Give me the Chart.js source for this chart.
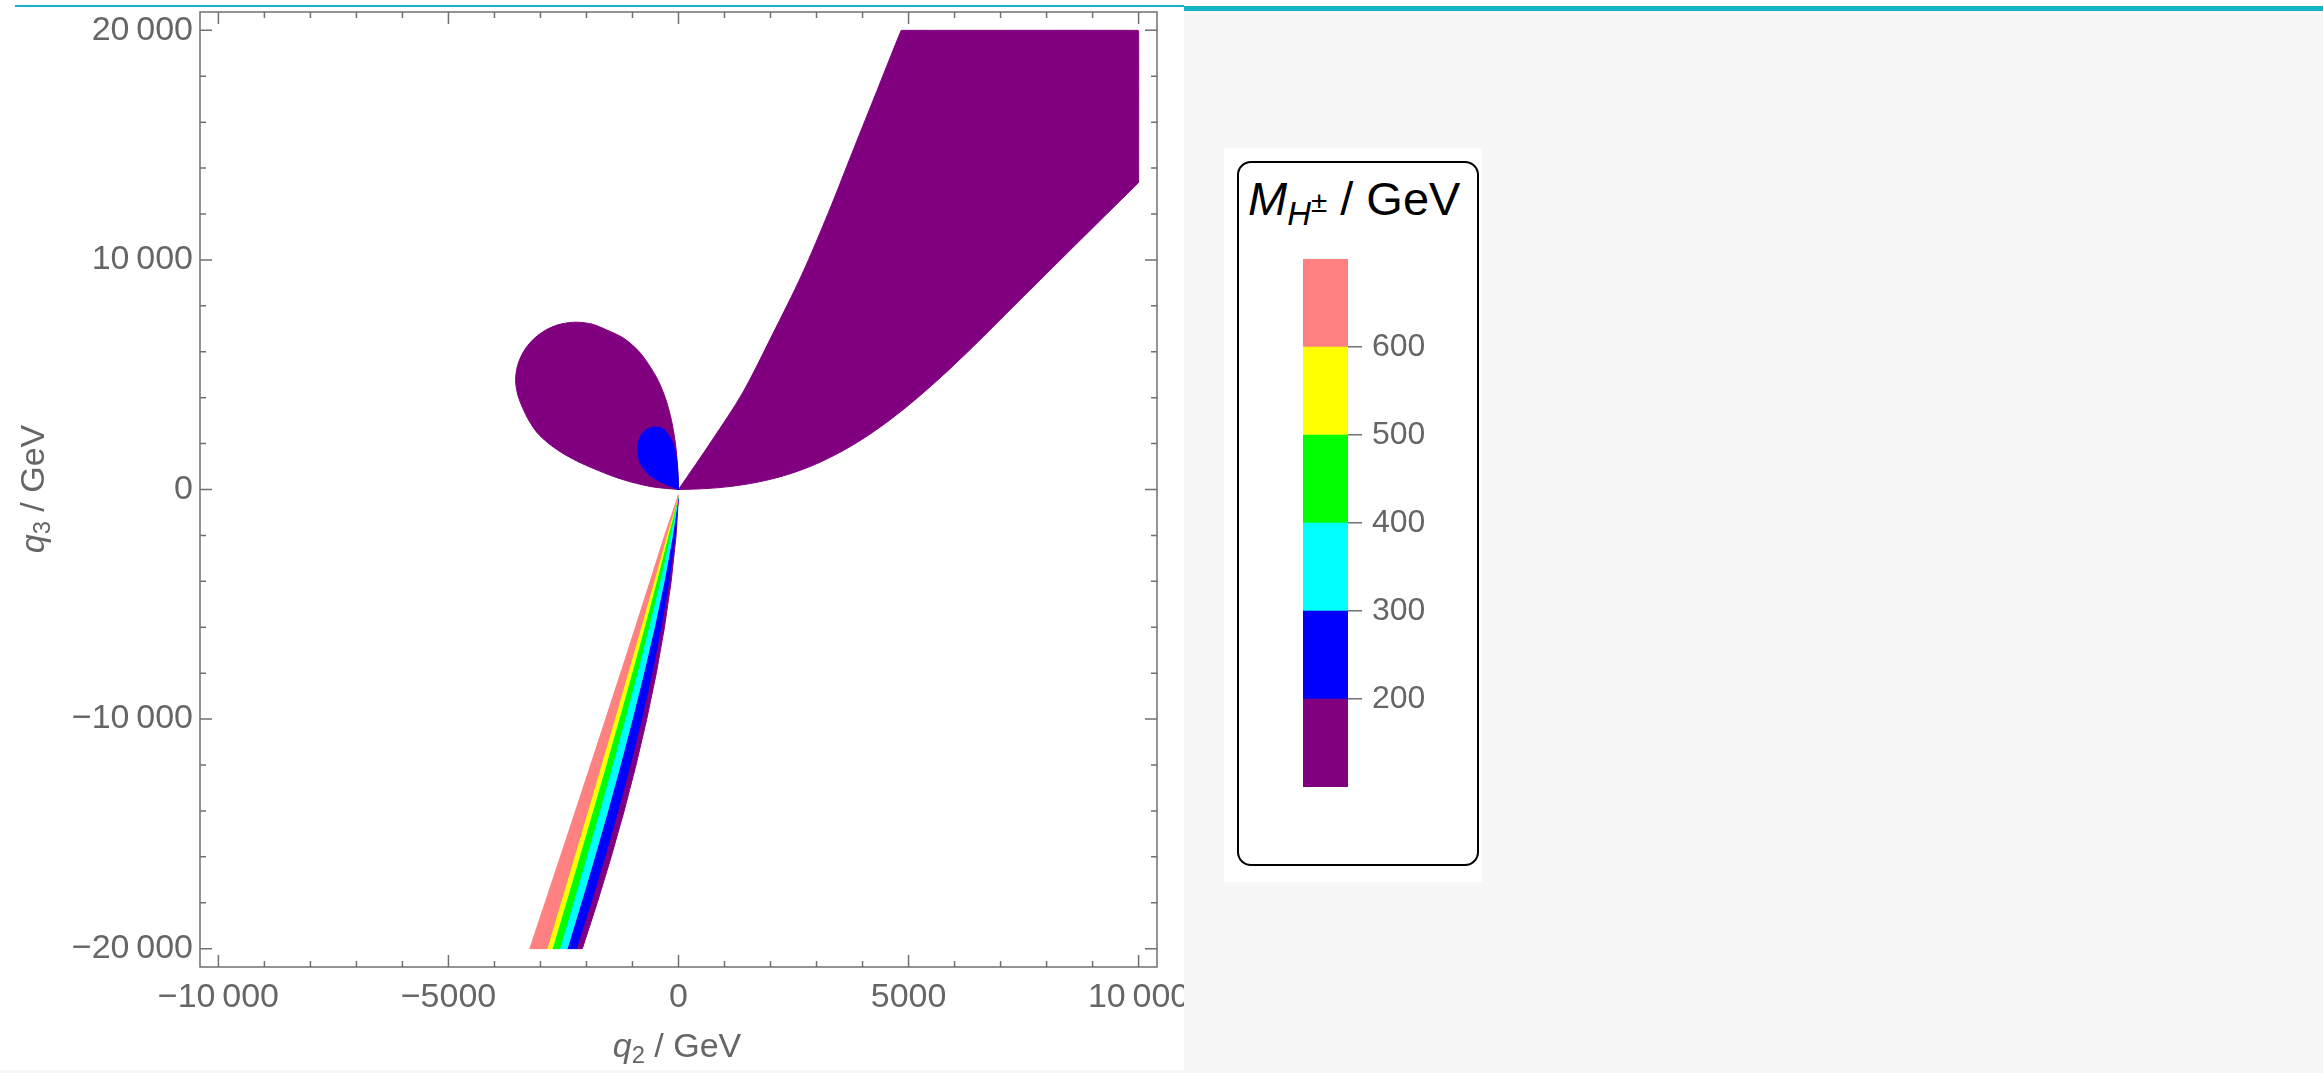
<!DOCTYPE html>
<html>
<head>
<meta charset="utf-8">
<script src="https://cdn.jsdelivr.net/npm/chart.js@4.4.1/dist/chart.umd.min.js"></script>
<style>
    html, body { margin: 0; padding: 0; }
    body { width: 2323px; height: 1073px; background: #f7f7f7; position: relative; overflow: hidden; font-family: "Liberation Sans", Arial, sans-serif; }
    #topStrip { position: absolute; left: 0; top: 0; width: 2323px; height: 6px; background: #fff; }
    #plotPanel { position: absolute; left: 0; top: 0; width: 1184px; height: 1070px; background: #fff; }
    #cyanThin { position: absolute; left: 15px; top: 5px; width: 1169px; height: 2px; background: #14b4c4; }
    #cyanThick { position: absolute; left: 1184px; top: 6px; width: 1139px; height: 5px; background: #14b4c4; }
    #mainChart { position: absolute; left: 0; top: 0; }
    .axisTitle { position: absolute; font-size: 34px; color: #666; line-height: 1; white-space: nowrap; text-align: center; }
    .axisTitle sub { font-size: 0.7em; vertical-align: -0.25em; line-height: 0; }
    #xTitle { left: 577px; top: 1028px; width: 200px; }
    #yTitle { left: -68px; top: 472px; width: 200px; height: 34px; transform: rotate(-90deg); }
    #legendPanel { position: absolute; left: 1224px; top: 148px; width: 258px; height: 734px; background: #fff; }
    #legendBox { position: absolute; left: 1237px; top: 161px; width: 242px; height: 705px; border: 2px solid #000; border-radius: 14px; box-sizing: border-box; }
    #legendTitle { position: absolute; left: 1248px; top: 175px; font-size: 47px; line-height: 1; color: #000; white-space: nowrap; }
    #legendTitle sub { font-size: 0.7em; vertical-align: -0.3em; line-height: 0; }
    #legendTitle sup { font-size: 0.9em; vertical-align: 0.45em; line-height: 0; }
    #barChart { position: absolute; left: 1303px; top: 219px; }
</style>
</head>
<body>
<div id="topStrip"></div>
<div id="plotPanel"></div>
<div id="cyanThin"></div>
<div id="cyanThick"></div>
<canvas id="mainChart" width="1184" height="1070"></canvas>
<div class="axisTitle" id="xTitle"><i>q</i><sub>2</sub> / GeV</div>
<div class="axisTitle" id="yTitle"><i>q</i><sub>3</sub> / GeV</div>
<div id="legendPanel"></div>
<div id="legendBox"></div>
<div id="legendTitle"><i>M</i><sub><i>H</i><sup>±</sup></sub> / GeV</div>
<canvas id="barChart" width="170" height="608"></canvas>
<script>
/* Axis ticks */
const xTicks = [-10000, -9000, -8000, -7000, -6000, -5000, -4000, -3000, -2000, -1000, 0,
    1000, 2000, 3000, 4000, 5000, 6000, 7000, 8000, 9000, 10000];
const yTicks = [-20000, -18000, -16000, -14000, -12000, -10000, -8000, -6000, -4000, -2000, 0,
    2000, 4000, 6000, 8000, 10000, 12000, 14000, 16000, 18000, 20000];
const xLabelTicks = [-10000, -5000, 0, 5000, 10000];
const xTickLabels = ['\u221210\u2009000', '\u22125000', '0', '5000', '10\u2009000'];
const yLabelTicks = [-20000, -10000, 0, 10000, 20000];
const yTickLabels = ['\u221220\u2009000', '\u221210\u2009000', '0', '10\u2009000', '20\u2009000'];

/* Colour bar */
const massLevels = [100, 200, 300, 400, 500, 600, 700];
const massColors = ['#800080', '#0000ff', '#00ffff', '#00ff00', '#ffff00', '#ff8080'];
const massTicks = [200, 300, 400, 500, 600];

/* Left loop (purple), traced from the origin up its right side */
const loopX = [0, -15, -60, -152, -280, -442, -650, -878, -1200, -1561, -1879, -2221, -2563, -2881, -3154,
    -3364, -3496, -3541, -3490, -3386, -3250, -3064, -2820, -2548, -2200, -1838, -1430, -1030, -550, 0];
const loopY = [0, 800, 1900, 3005, 3950, 4747, 5450, 6054, 6600, 6950, 7204, 7290, 7204, 6950, 6546,
    6020, 5407, 4750, 4100, 3553, 3000, 2456, 2000, 1616, 1230, 906, 580, 327, 110, 0];
/* Inner blue loop */
const innerX = [0, -290, -500, -660, -842, -893, -860, -806, -700, -551, -420, -290, -116, -50, -22, -5, 0];
const innerY = [0, 247, 450, 684, 1190, 1844, 2150, 2395, 2600, 2715, 2700, 2570, 1990, 1400, 971, 400, 0];

/* Right lobe (purple): upper edge, clipped corners, lower edge back to the origin */
const lobeUpperX = [0, 745, 1390, 2034, 2681, 3260, 3809, 4325, 4840];
const lobeUpperY = [0, 2190, 4198, 6715, 9358, 12070, 14843, 17426, 20000];
const lobeCornerX = [4860, 9980, 10000, 10000, 10000];
const lobeCornerY = [20000, 20000, 19980, 13390, 13370];
const lobeLowerX = [9500, 9000, 8500, 8000, 7500, 7000, 6500, 6000, 5500, 5000, 4500, 4000,
    3500, 3000, 2500, 2000, 1500, 1000, 500, 0];
const lobeLowerY = [12385, 11395, 10405, 9410, 8415, 7415, 6415, 5450, 4530, 3670, 2890, 2200,
    1610, 1120, 735, 445, 240, 105, 30, 0];

/* Lower wedge: band edges, left to right, at each wedgeY */
const wedgeY = [-250, -2000, -4000, -6000, -8000, -10000, -12000, -14000, -16000, -18000, -20000];
const edgePinkLeft = [0, -301, -616, -935, -1257, -1582, -1909, -2237, -2567, -2898, -3230];
const edgePinkYellow = [0, -261, -536, -818, -1103, -1391, -1681, -1973, -2268, -2563, -2860];
const edgeYellowGreen = [0, -226, -479, -743, -1016, -1294, -1577, -1864, -2155, -2448, -2745];
const edgeGreenCyan = [0, -183, -406, -647, -901, -1165, -1437, -1715, -2000, -2290, -2585];
const edgeCyanBlue = [0, -130, -313, -524, -756, -1004, -1265, -1538, -1823, -2117, -2420];
const edgeBluePurple = [0, -75, -208, -378, -577, -801, -1048, -1314, -1599, -1901, -2220];
const edgePurpleRight = [0, -52, -159, -305, -482, -690, -923, -1181, -1463, -1766, -2090];

const tickColor = '#707070';
const labelColor = '#666';

function toPoints(xs, ys) {
    return xs.map((x, i) => ({ x: x, y: ys[i] }));
}

function band(leftEdge, rightEdge) {
    return toPoints(leftEdge, wedgeY).concat(toPoints(rightEdge, wedgeY).reverse());
}

function region(points, color, tension) {
    return {
        data: points,
        showLine: true,
        fill: 'shape',
        backgroundColor: color,
        borderColor: color,
        borderWidth: 1,
        pointRadius: 0,
        tension: tension || 0
    };
}

function labelFor(value, values, labels) {
    const i = values.indexOf(value);
    return i >= 0 ? labels[i] : '';
}

// Frame with inward ticks on all four sides, like the original plot
const frameTicks = {
    id: 'frameTicks',
    afterDraw(chart) {
        const { ctx, chartArea: a, scales: { x, y } } = chart;
        ctx.save();
        ctx.strokeStyle = tickColor;
        ctx.lineWidth = 1.5;
        ctx.strokeRect(a.left, a.top, a.right - a.left, a.bottom - a.top);
        ctx.beginPath();
        x.ticks.forEach(t => {
            const px = x.getPixelForValue(t.value);
            const len = xLabelTicks.includes(t.value) ? 12 : 6;
            ctx.moveTo(px, a.bottom); ctx.lineTo(px, a.bottom - len);
            ctx.moveTo(px, a.top); ctx.lineTo(px, a.top + len);
        });
        y.ticks.forEach(t => {
            const py = y.getPixelForValue(t.value);
            const len = yLabelTicks.includes(t.value) ? 12 : 6;
            ctx.moveTo(a.left, py); ctx.lineTo(a.left + len, py);
            ctx.moveTo(a.right, py); ctx.lineTo(a.right - len, py);
        });
        ctx.stroke();
        ctx.restore();
    }
};

const tickFont = { family: '"Liberation Sans", Arial, sans-serif', size: 34 };

// Datasets listed first are drawn on top
const mainDatasets = [
    region(toPoints(innerX, innerY), massColors[1], 0.3),
    region(toPoints(loopX, loopY), massColors[0], 0.3),
    region(toPoints(lobeUpperX, lobeUpperY)
        .concat(toPoints(lobeCornerX, lobeCornerY))
        .concat(toPoints(lobeLowerX, lobeLowerY)), massColors[0], 0.3),
    region(band(edgePinkLeft, edgePinkYellow), massColors[5], 0),
    region(band(edgePinkYellow, edgeYellowGreen), massColors[4], 0),
    region(band(edgeYellowGreen, edgeGreenCyan), massColors[3], 0),
    region(band(edgeGreenCyan, edgeCyanBlue), massColors[2], 0),
    region(band(edgeCyanBlue, edgeBluePurple), massColors[1], 0),
    region(band(edgeBluePurple, edgePurpleRight), massColors[0], 0)
];

new Chart(document.getElementById('mainChart').getContext('2d'), {
    type: 'scatter',
    data: { datasets: mainDatasets },
    options: {
        responsive: false,
        animation: false,
        events: [],
        layout: { padding: { top: 12, left: 0, right: 27, bottom: 33 } },
        plugins: { legend: { display: false }, tooltip: { enabled: false } },
        scales: {
            x: {
                type: 'linear',
                min: -10400,
                max: 10400,
                grid: { display: false, drawTicks: false },
                border: { display: false },
                afterBuildTicks: (s) => { s.ticks = xTicks.map(v => ({ value: v })); },
                afterFit: (s) => { s.height = 70; s.paddingLeft = 0; s.paddingRight = 0; },
                ticks: {
                    autoSkip: false,
                    maxRotation: 0,
                    padding: 10,
                    color: labelColor,
                    font: tickFont,
                    callback: (v) => labelFor(v, xLabelTicks, xTickLabels)
                }
            },
            y: {
                type: 'linear',
                min: -20800,
                max: 20800,
                grid: { display: false, drawTicks: false },
                border: { display: false },
                afterBuildTicks: (s) => { s.ticks = yTicks.map(v => ({ value: v })); },
                afterFit: (s) => { s.width = 200; s.paddingTop = 0; s.paddingBottom = 0; },
                ticks: {
                    autoSkip: false,
                    padding: 7,
                    color: labelColor,
                    font: tickFont,
                    callback: (v) => labelFor(v, yLabelTicks, yTickLabels)
                }
            }
        }
    },
    plugins: [frameTicks]
});

// Colour bar: one floating bar per mass band
const barDatasets = massColors.map((c, i) => ({
    data: [[massLevels[i], massLevels[i + 1]]],
    backgroundColor: c,
    borderWidth: 0,
    barPercentage: 1,
    categoryPercentage: 1,
    grouped: false
}));

new Chart(document.getElementById('barChart').getContext('2d'), {
    type: 'bar',
    data: { labels: [''], datasets: barDatasets },
    options: {
        responsive: false,
        animation: false,
        events: [],
        layout: { padding: { top: 40, bottom: 40, left: 0, right: 0 } },
        plugins: { legend: { display: false }, tooltip: { enabled: false } },
        scales: {
            x: { display: false },
            y: {
                position: 'right',
                min: massLevels[0],
                max: massLevels[massLevels.length - 1],
                border: { display: false },
                grid: { drawOnChartArea: false, drawTicks: true, tickLength: 14, color: tickColor, lineWidth: 1.5 },
                afterBuildTicks: (s) => { s.ticks = massTicks.map(v => ({ value: v })); },
                afterFit: (s) => { s.width = 125; s.paddingTop = 0; s.paddingBottom = 0; },
                ticks: {
                    padding: 10,
                    color: labelColor,
                    font: { family: '"Liberation Sans", Arial, sans-serif', size: 32 },
                    callback: (v) => String(v)
                }
            }
        }
    }
});
</script>
</body>
</html>
